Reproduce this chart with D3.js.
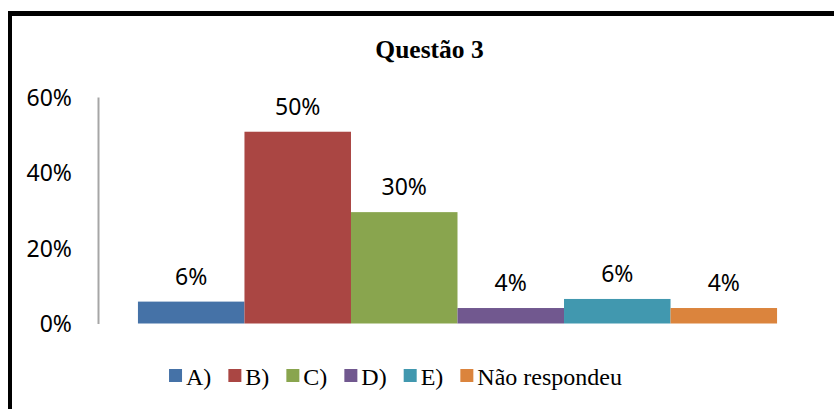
<!DOCTYPE html>
<meta charset="utf-8">
<head>
  <meta charset="utf-8">
  <title>Questão 3</title>
  <script src="https://d3js.org/d3.v7.min.js"></script>
</head>
<style>
body {margin:0; background:#fff;}
.ylab text {font-family: "Noto Sans", sans-serif; font-size: 23px; fill: #000;}
.vlabel {font-family: "Noto Sans", sans-serif; font-size: 23px; fill: #000;}
.title {font-family: "Liberation Serif", serif; font-weight: bold; font-size: 25.5px;}
.leg {font-family: "Liberation Serif", serif; font-size: 24px;}
</style>
<body>
<script>

// data
var categories = ["A)", "B)", "C)", "D)", "E)", "Não respondeu"];
var values = [0.058, 0.508, 0.295, 0.041, 0.065, 0.041];
var valueLabels = ["6%", "50%", "30%", "4%", "6%", "4%"];
var colors = ["#4572A7", "#AA4643", "#89A54E", "#71588F", "#4198AF", "#DB843D"];
var yTicks = [0, 0.2, 0.4, 0.6];

var W = 834, H = 409;

var svg = d3.select("body").append("svg")
    .attr("width", W)
    .attr("height", H);

// frame (only top and left edges are visible)
svg.append("line").attr("x1", 8).attr("x2", W).attr("y1", 13.5).attr("y2", 13.5)
    .attr("stroke", "#000").attr("stroke-width", 5);
svg.append("line").attr("x1", 10).attr("x2", 10).attr("y1", 11).attr("y2", H)
    .attr("stroke", "#000").attr("stroke-width", 4);

// title
svg.append("text").attr("class", "title")
    .attr("x", 429.5).attr("y", 58)
    .attr("text-anchor", "middle")
    .text("Questão 3");

// scales
var x = d3.scaleBand()
    .domain(categories)
    .range([98, 817])
    .paddingInner(0)
    .paddingOuter(0.375);

var y = d3.scaleLinear()
    .domain([0, 0.6])
    .range([323.5, 97]);

// y axis
var yAxis = svg.append("g")
    .attr("class", "ylab")
    .attr("transform", "translate(98,0)")
    .call(d3.axisLeft(y).tickValues(yTicks).tickSize(0).tickPadding(26)
      .tickFormat(d3.format(".0%")));
yAxis.select(".domain").attr("stroke", "#a6a6a6").attr("stroke-width", 2);
yAxis.selectAll("text").attr("dy", "0.36em");

// bars
svg.selectAll(".bar")
    .data(values)
  .enter().append("rect")
    .attr("class", "bar")
    .attr("x", function(d, i) { return x(categories[i]); })
    .attr("width", x.bandwidth())
    .attr("y", function(d) { return y(d); })
    .attr("height", function(d) { return y(0) - y(d); })
    .attr("fill", function(d, i) { return colors[i]; });

// value labels
svg.selectAll(".vlabel")
    .data(values)
  .enter().append("text")
    .attr("class", "vlabel")
    .attr("x", function(d, i) { return x(categories[i]) + x.bandwidth() / 2; })
    .attr("y", function(d) { return y(d) - 17; })
    .attr("text-anchor", "middle")
    .text(function(d, i) { return valueLabels[i]; });

// legend
var legend = svg.append("g");
var lx = 0;
categories.forEach(function(c, i) {
  var g = legend.append("g").attr("transform", "translate(" + lx + ",0)");
  g.append("rect").attr("x", 0).attr("y", 369).attr("width", 13).attr("height", 13)
    .attr("fill", colors[i]);
  var t = g.append("text").attr("class", "leg").attr("x", 17).attr("y", 385).text(c);
  lx += 17 + t.node().getComputedTextLength() + 17;
});
var legW = lx - 17;
legend.attr("transform", "translate(" + (395.5 - legW / 2) + ",0)");

</script>
</body>
